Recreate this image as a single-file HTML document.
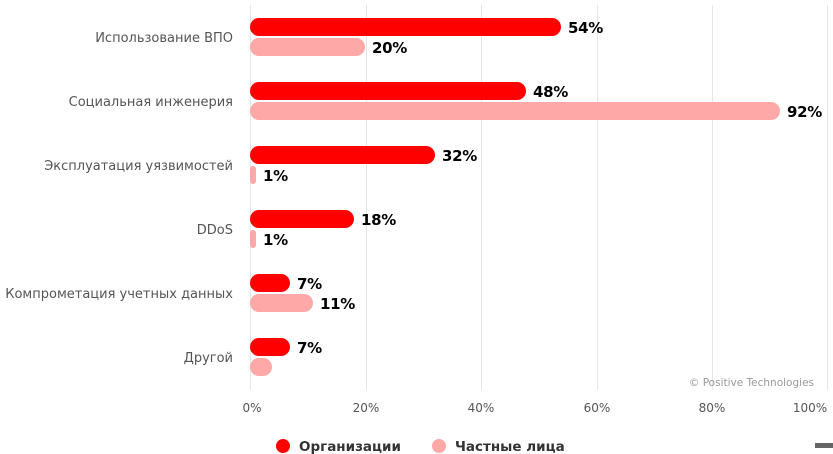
<!DOCTYPE html>
<html><head><meta charset="utf-8"><style>
html,body{margin:0;padding:0;background:#fff;width:833px;height:454px;overflow:hidden}
text{font-family:"DejaVu Sans","Liberation Sans",sans-serif}
</style></head><body>
<svg width="833" height="454" xmlns="http://www.w3.org/2000/svg">
<g stroke="#e6e6e6" stroke-width="1">
<line x1="250.5" y1="5" x2="250.5" y2="390"/>
<line x1="366.5" y1="5" x2="366.5" y2="390"/>
<line x1="481.5" y1="5" x2="481.5" y2="390"/>
<line x1="597.5" y1="5" x2="597.5" y2="390"/>
<line x1="712.5" y1="5" x2="712.5" y2="390"/>
<line x1="827.5" y1="5" x2="827.5" y2="390"/>
</g>
<g font-size="13" fill="#555" text-anchor="end">
<text x="233" y="42">Использование ВПО</text>
<text x="233" y="106">Социальная инженерия</text>
<text x="233" y="170">Эксплуатация уязвимостей</text>
<text x="233" y="234">DDoS</text>
<text x="233" y="298">Компрометация учетных данных</text>
<text x="233" y="362">Другой</text>
</g>
<g fill="#ff0000">
<rect x="250" y="18" width="311" height="18" rx="9"/>
<rect x="250" y="82" width="276" height="18" rx="9"/>
<rect x="250" y="146" width="185" height="18" rx="9"/>
<rect x="250" y="210" width="104" height="18" rx="9"/>
<rect x="250" y="274" width="40" height="18" rx="9"/>
<rect x="250" y="338" width="40" height="18" rx="9"/>
</g>
<g fill="#ffa8a8">
<rect x="250" y="38" width="115" height="18" rx="9"/>
<rect x="250" y="102" width="530" height="18" rx="9"/>
<rect x="250" y="166" width="6" height="18" rx="3"/>
<rect x="250" y="230" width="6" height="18" rx="3"/>
<rect x="250" y="294" width="63" height="18" rx="9"/>
<rect x="250" y="358" width="22" height="18" rx="9"/>
</g>
<g font-size="15" font-weight="bold" fill="#000" letter-spacing="-0.3">
<text x="568" y="33">54%</text><text x="372" y="53">20%</text>
<text x="533" y="97">48%</text><text x="787" y="117">92%</text>
<text x="442" y="161">32%</text><text x="263" y="181">1%</text>
<text x="361" y="225">18%</text><text x="263" y="245">1%</text>
<text x="297" y="289">7%</text><text x="320" y="309">11%</text>
<text x="297" y="353">7%</text>
</g>
<text x="814" y="386" font-size="10.5" fill="#999" text-anchor="end">© Positive Technologies</text>
<g font-size="12" fill="#555" text-anchor="middle">
<text x="252" y="412">0%</text><text x="366" y="412">20%</text>
<text x="481" y="412">40%</text><text x="597" y="412">60%</text>
<text x="712" y="412">80%</text><text x="810" y="412">100%</text>
</g>
<circle cx="283" cy="446" r="7" fill="#ff0000"/>
<text x="299" y="451" font-size="13.5" font-weight="bold" fill="#333">Организации</text>
<circle cx="439" cy="446" r="7" fill="#ffa8a8"/>
<text x="455" y="451" font-size="13.5" font-weight="bold" fill="#333">Частные лица</text>
<rect x="815" y="443" width="18" height="5" fill="#666"/>
</svg>
</body></html>
